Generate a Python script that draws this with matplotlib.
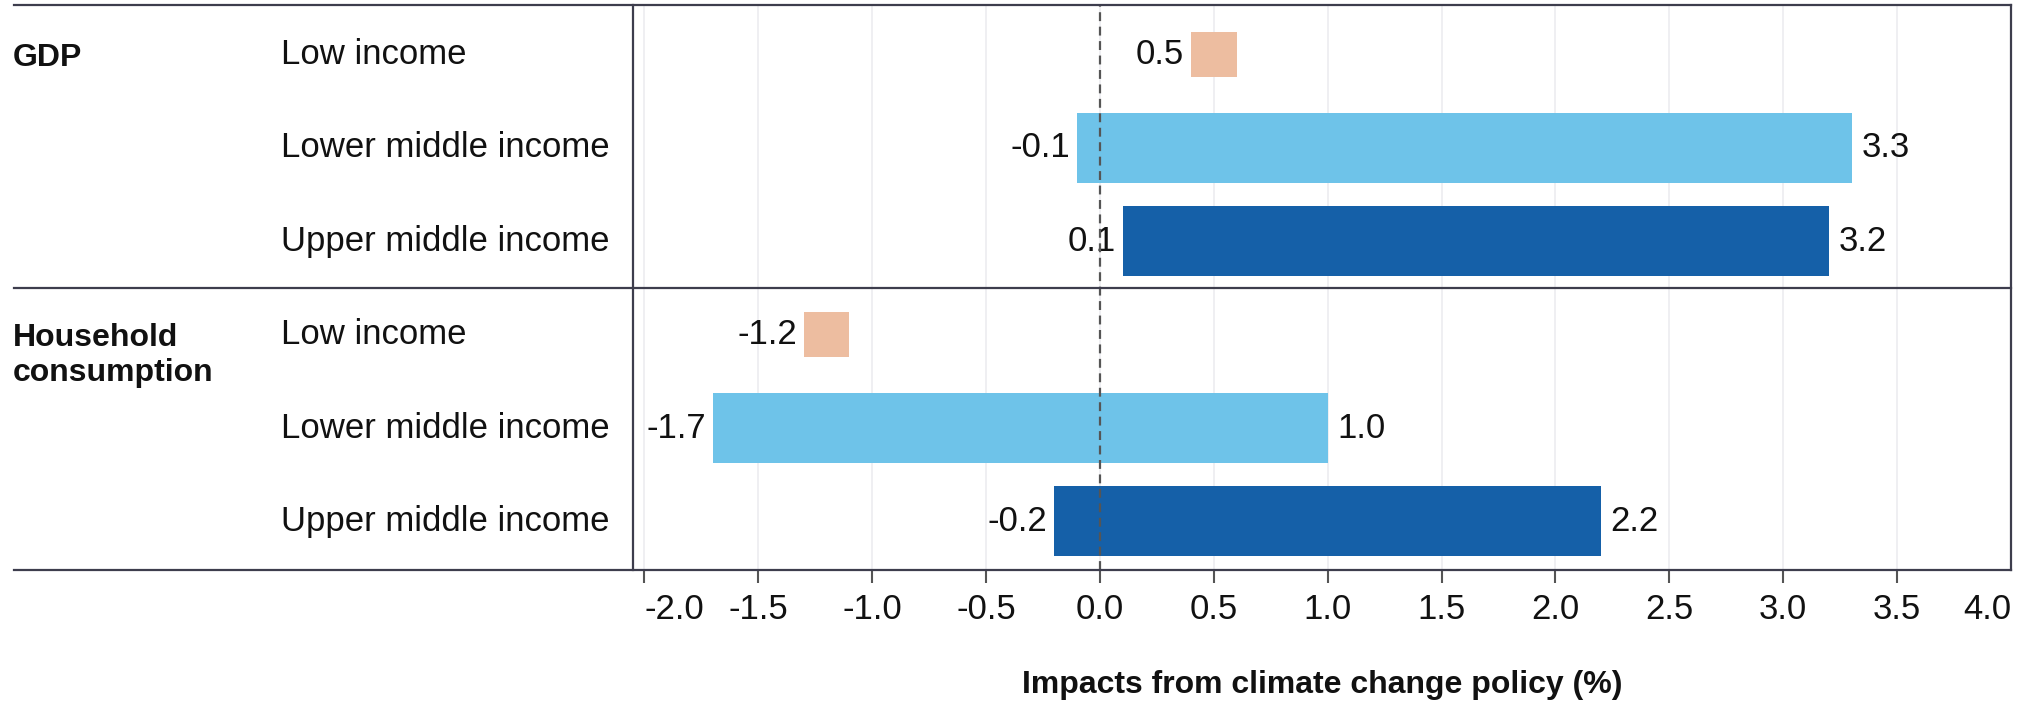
import numpy as np
import matplotlib
matplotlib.use("Agg")
import matplotlib.pyplot as plt

plt.rcParams['font.family'] = ['Liberation Sans', 'DejaVu Sans']
plt.rcParams['axes.unicode_minus'] = False

# data
groups = ['GDP', 'Household\nconsumption']
incomes = ['Low income', 'Lower middle income', 'Upper middle income']
gdp_min = [0.5, -0.1, 0.1]
gdp_max = [0.5, 3.3, 3.2]
hh_min = [-1.2, -1.7, -0.2]
hh_max = [-1.2, 1.0, 2.2]
ticks = [-2.0, -1.5, -1.0, -0.5, 0.0, 0.5, 1.0, 1.5, 2.0, 2.5, 3.0, 3.5, 4.0]
xlabel = 'Impacts from climate change policy (%)'

colors = ['#EDBDA0', '#6EC3E9', '#1560A8']
line_col = '#3d3d4d'

fig = plt.figure(figsize=(20.29, 7.04), dpi=100)
ax = fig.add_axes([0.312, 0.1903, 0.6791, 0.8026])

mins = [gdp_min, hh_min]
maxs = [gdp_max, hh_max]
for g in range(len(groups)):
    for i in range(len(incomes)):
        row = g * 3 + i
        lo = mins[g][i]
        hi = maxs[g][i]
        if lo == hi:
            # single value -> small square
            ax.barh(row, 0.2, left=lo - 0.1, height=0.48, color=colors[i], zorder=2)
            ax.annotate(f'{lo:.1f}', (lo - 0.1, row), xytext=(-5, 0), textcoords='offset points',
                        ha='right', va='center', fontsize=25, color='#111')
        else:
            ax.barh(row, hi - lo, left=lo, height=0.75, color=colors[i], zorder=2)
            ax.annotate(f'{lo:.1f}', (lo, row), xytext=(-5, 0), textcoords='offset points',
                        ha='right', va='center', fontsize=25, color='#111')
            ax.annotate(f'{hi:.1f}', (hi, row), xytext=(7, 0), textcoords='offset points',
                        ha='left', va='center', fontsize=25, color='#111')
        # row labels
        ax.text(-0.2558, row, incomes[i], transform=ax.get_yaxis_transform(),
                ha='left', va='center', fontsize=25, color='#111')
    # group labels, one text per line
    for k, part in enumerate(groups[g].split('\n')):
        ax.text(-0.4502, g * 3 + k * 0.37, part, transform=ax.get_yaxis_transform(),
                ha='left', va='center_baseline', fontsize=23, fontweight='bold', color='#111')

ax.axvline(0, color='#555555', ls=(0, (4, 2.5)), lw=1.6, zorder=3)

ax.set_xlim(-2.05, 4.0)
ax.set_ylim(5.52, -0.53)

# horizontal rules reaching into the label area
for y in [-0.53, 2.5, 5.52]:
    ax.plot([-0.449, 1.0], [y, y], transform=ax.get_yaxis_transform(),
            color=line_col, lw=1.6, clip_on=False, zorder=4)

for s in ['top', 'bottom']:
    ax.spines[s].set_visible(False)
for s in ['left', 'right']:
    ax.spines[s].set_color(line_col)
    ax.spines[s].set_linewidth(1.6)

ax.set_yticks([])
ax.set_xticks(ticks)
ax.set_xticklabels([f'{t:.1f}' for t in ticks])
ax.tick_params(axis='x', length=9.5, width=1.5, color='#555555', pad=7,
               labelsize=25, labelcolor='#111')
ax.grid(axis='x', color='#ececf0', lw=1.2)
ax.set_axisbelow(True)

tl = ax.get_xticklabels()
tl[0].set_ha('left')
tl[-1].set_ha('right')
ax.xaxis.get_major_ticks()[-1].tick1line.set_visible(False)

fig.text(0.6516, 0.027, xlabel, ha='center', va='center', fontsize=23,
         fontweight='bold', color='#111')

fig.savefig('out.png', dpi=100)
